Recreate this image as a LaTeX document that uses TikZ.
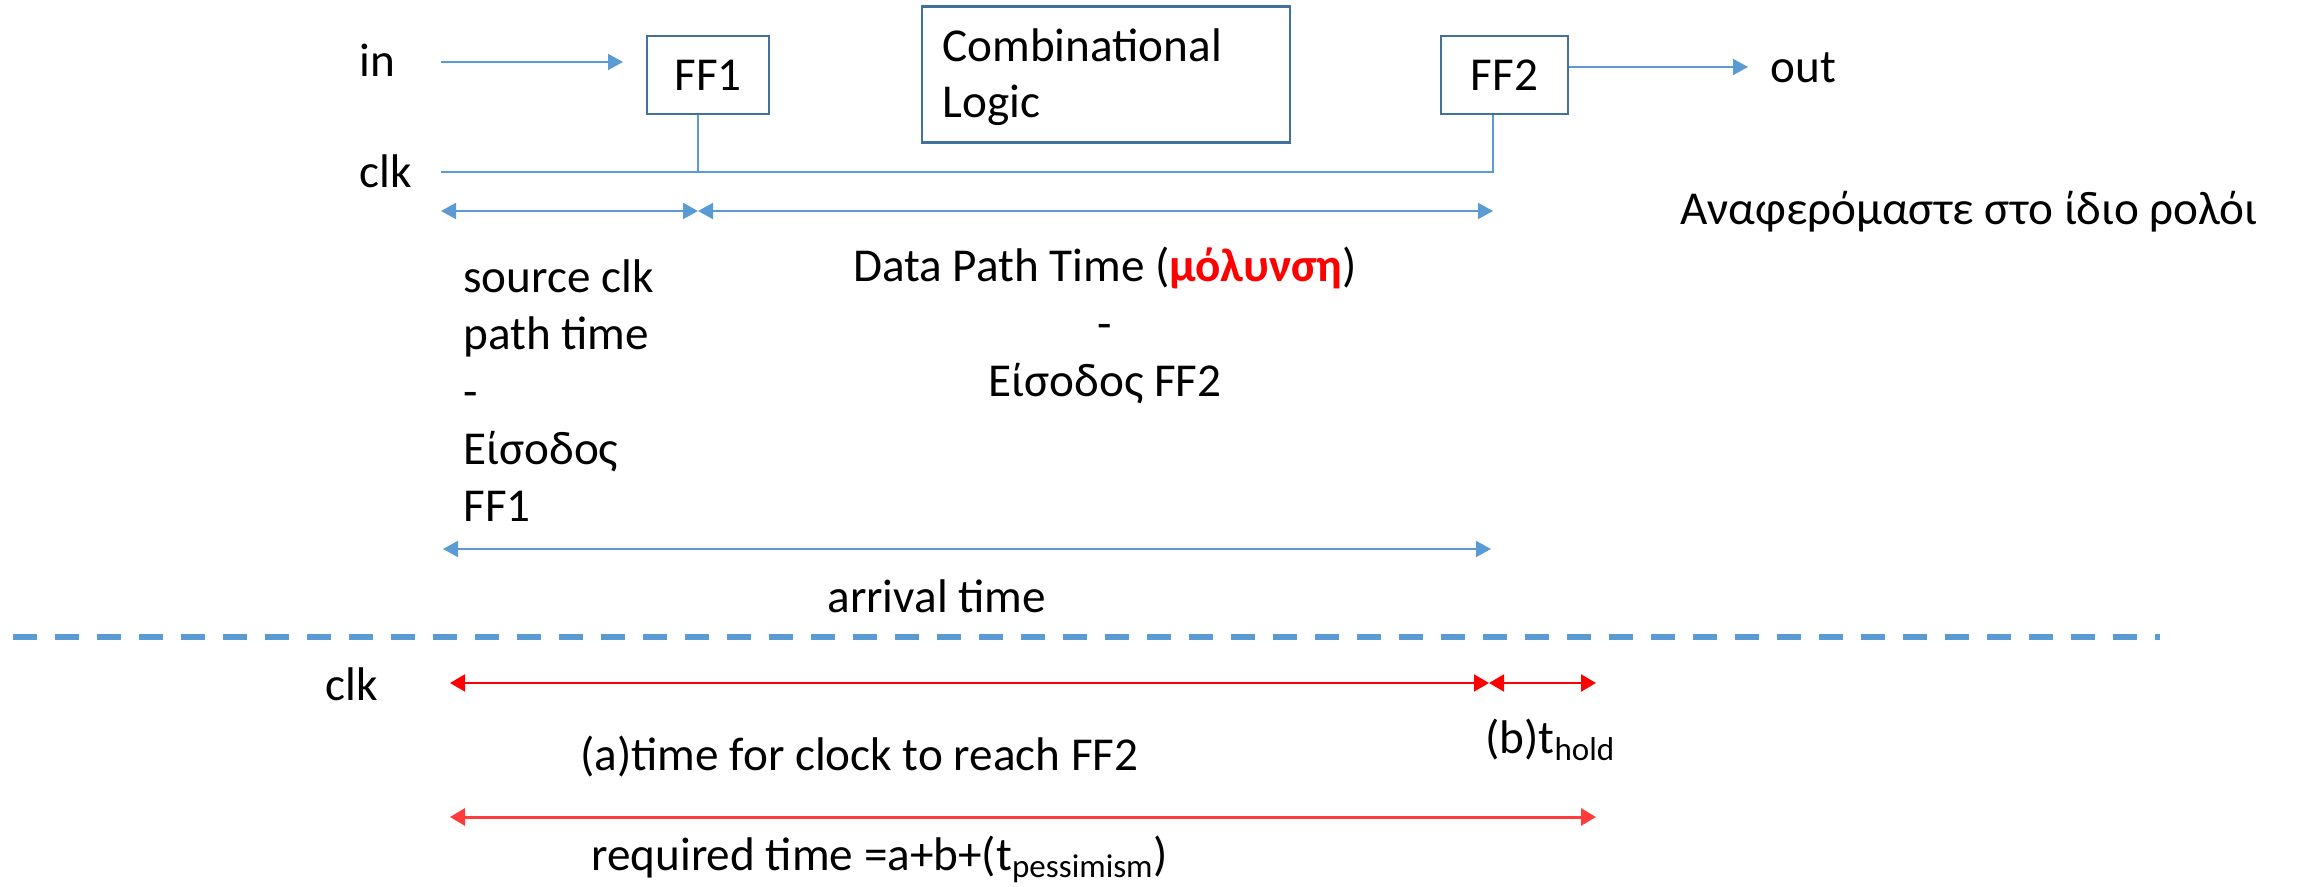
\documentclass[tikz,border=0pt]{standalone}
\usepackage{fontspec}
\setmainfont{Carlito}
\usetikzlibrary{arrows.meta}
\definecolor{lblue}{HTML}{5B9BD5}
\definecolor{bblue}{HTML}{41719C}
\definecolor{lred}{HTML}{FF3B3B}
\begin{document}
\begin{tikzpicture}[x=0.5pt,y=-0.5pt,
  every node/.style={inner sep=0pt, font=\fontsize{23.6pt}{28.75pt}\selectfont},
  box/.style={draw=bblue, line width=1.25pt, fill=white},
  conn/.style={draw=lblue, line width=1pt},
  tipb/.style={-{Triangle[length=7.5pt,width=8pt]}},
  dblb/.style={{Triangle[length=7.5pt,width=8pt]}-{Triangle[length=7.5pt,width=8pt]}},
  redline/.style={draw=red, line width=1pt},
  dblr/.style={{Triangle[length=7.5pt,width=8.5pt]}-{Triangle[length=7.5pt,width=8.5pt]}},
  lbl/.style={anchor=base west}]
\useasboundingbox (0,0) rectangle (2297,887);

% boxes
\node[box, minimum width=61pt, minimum height=39pt] (FF1) at (708,75) {FF1};
\node[box, minimum width=63.5pt, minimum height=39pt] (FF2) at (1504.5,75) {FF2};
\node[box, minimum width=184pt, minimum height=68pt] (comb) at (1106,74.7) {};
\node[lbl, align=left] (combtxt) at (942,118) {Combinational\\[-0.5pt]Logic};

% labels
\node[lbl] (in) at (359,77) {in};
\node[lbl] (clk) at (359,188) {clk};
\node[lbl] (out) at (1770,83) {out};
\node[lbl] (same) at (1680,225) {Αναφερόμαστε στο ίδιο ρολόι};
\node[lbl, align=left] (src) at (463,522) {source clk\\path time\\-\\Είσοδος\\FF1};
\node[anchor=base, align=center] (dpt) at (1105,397) {Data Path Time (\textcolor{red}{\textbf{μόλυνση}})\\-\\Είσοδος FF2};
\node[lbl] (arr) at (827,612) {arrival time};
\node[lbl] (clk2) at (325,700) {clk};
\node[lbl] (ta) at (580,770) {(a)time for clock to reach FF2};
\node[lbl] (tb) at (1485,753) {(b)t\textsubscript{hold}};
\node[lbl] (req) at (591,870) {required time =a+b+(t\textsubscript{pessimism})};

% coordinates
\coordinate (inA) at (441,62);
\coordinate (inB) at (623,62);
\coordinate (outB) at (1748,67);
\coordinate (clkA) at (441,172);
\coordinate (a1) at (441,211);
\coordinate (a2) at (698,211);
\coordinate (a3) at (1493,211);
\coordinate (b1) at (443,549);
\coordinate (b2) at (1491,549);
\coordinate (d1) at (13,637);
\coordinate (d2) at (2160,637);
\coordinate (r1) at (450,683);
\coordinate (r2) at (1489,683);
\coordinate (r3) at (1596,683);
\coordinate (s1) at (450,817);
\coordinate (s2) at (1596,817);

% connectors
\draw[conn, tipb] (inA) -- (inB);
\draw[conn, tipb] ([yshift=4pt]FF2.east) -- (outB);
\draw[conn] (clkA) -| ([xshift=-6pt]FF2.south);
\draw[draw=lblue, line width=0.7pt] ([xshift=-5pt]FF1.south) -- ([xshift=-5pt]FF1.south |- clkA);
\draw[conn, dblb] (a1) -- (a2);
\draw[conn, dblb] (a2) -- (a3);
\draw[conn, dblb] (b1) -- (b2);
\draw[draw=lblue, line width=3pt, dash pattern=on 12pt off 9pt] (d1) -- (d2);
\draw[redline, dblr] (r1) -- (r2);
\draw[redline, dblr] (r2) -- (r3);
\draw[draw=lred, line width=1.5pt, dblr] (s1) -- (s2);
\end{tikzpicture}
\end{document}
